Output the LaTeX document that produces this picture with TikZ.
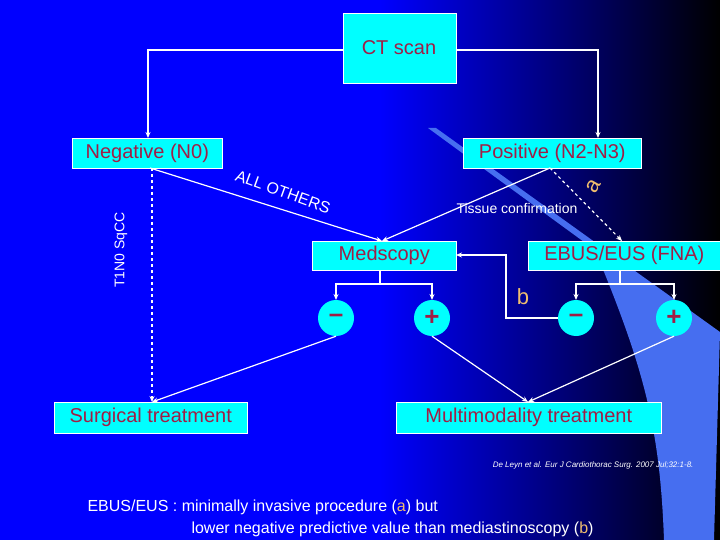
\documentclass[tikz,border=0pt]{standalone}
\usepackage{fontspec}
\setmainfont{Liberation Sans}
\usetikzlibrary{arrows.meta}
\definecolor{txt}{RGB}{160,30,70}
\definecolor{cy}{RGB}{0,255,255}
\definecolor{lb}{RGB}{70,110,240}
\definecolor{org}{RGB}{240,190,110}
\begin{document}
\begin{tikzpicture}[x=1pt,y=-1pt,
  box/.style={fill=cy,draw=white,line width=0.6pt,text=txt,font=\fontsize{20}{22}\selectfont,inner sep=0pt,anchor=north west},
  circ/.style={circle,fill=cy,minimum size=36pt,inner sep=0pt,text=txt,font=\fontsize{26}{26}\selectfont\bfseries},
  ln/.style={white,line width=1.2pt},
  ar/.style={ln,-{Stealth[length=6pt,width=5pt]}},
  lbl/.style={white,font=\fontsize{14}{15}\selectfont}]
\useasboundingbox (0,0) rectangle (720,540);
\fill[blue] (0,0) rectangle (380,540);
\shade[left color=blue,right color=black] (380,0) rectangle (720,540);
\fill[lb] (428,128) -- (436,128) -- (720,332) -- (714,540) -- (664,540) .. controls (660,430) and (645,370) .. (595,250) -- cycle;
\node[box,minimum width=113pt,minimum height=70pt] (ct) at (343,13) {};
\node[text=txt,font=\fontsize{20}{22}\selectfont] at (399,48) {CT scan};
\node[box,minimum width=150pt,minimum height=30pt] (neg) at (72,138) {Negative (N0)};
\node[box,minimum width=178pt,minimum height=30pt] (pos) at (463,138) {Positive (N2-N3)};
\node[box,minimum width=144pt,minimum height=29pt] (med) at (312,241) {Medscopy};
\node[box,minimum width=192pt,minimum height=29pt] (ebus) at (528,241) {EBUS/EUS (FNA)};
\node[box,minimum width=193pt,minimum height=31pt] (sur) at (54,402) {Surgical treatment};
\node[box,minimum width=265pt,minimum height=31pt] (mul) at (396,402) {Multimodality treatment};
\node[circ] (m1) at (336,318) {--};
\node[circ] (p1) at (432,318) {+};
\node[circ] (m2) at (576,318) {--};
\node[circ] (p2) at (674,318) {+};
\coordinate (cl) at (343,50); \coordinate (cr) at (456,50);
\draw[ar] (cl) -- (148,50) -- (148,138);
\draw[ar] (cr) -- (598,50) -- (598,138);
\draw[ar,dashed] (152,168) -- (152,402);
\draw[ar] (150,168) -- (382,241);
\draw[ar] (550,168) -- (382,241);
\draw[ar,dashed] (550,168) -- (622,241);
\draw[white,double=white,line width=0.6pt,double distance=1.5pt] (380,270) -- (380,284);
\draw[ar] (380,284) -- (336,284) -- (336,300);
\draw[ar] (380,284) -- (432,284) -- (432,300);
\draw[ln] (620,270) -- (620,284);
\draw[ar] (620,284) -- (576,284) -- (576,300);
\draw[ar] (620,284) -- (674,284) -- (674,300);
\draw[ar] (m2.west) -- (506,318) -- (506,255) -- (456,255);
\draw[ar] (m1.south) -- (152,402);
\draw[ar] (p1.south) -- (528,402);
\draw[ar] (p2.south) -- (528,402);
\node[lbl,rotate=90] (t1) at (121,250) {T1N0 SqCC};
\node[lbl,rotate=-20,font=\fontsize{16}{17}\selectfont] (ao) at (283,192) {ALL OTHERS};
\node[lbl] (tc) at (517,208) {Tissue confirmation};
\node[org,rotate=60,font=\fontsize{22}{22}\selectfont] (a) at (594,186) {a};
\node[org,font=\fontsize{22}{22}\selectfont] (b) at (523,297) {b};
\node[white,anchor=east,font=\fontsize{8}{9}\selectfont\itshape] (cit) at (697,465) {De Leyn et al. Eur J Cardiothorac Surg. 2007 Jul;32:1-8.};
\node[white,anchor=west,font=\fontsize{16}{18}\selectfont] (l1) at (84,507) {EBUS/EUS : minimally invasive procedure (\textcolor{org}{a}) but};
\node[white,anchor=west,font=\fontsize{16}{18}\selectfont] (l2) at (188,529) {lower negative predictive value than mediastinoscopy (\textcolor{org}{b})};
\end{tikzpicture}
\end{document}
